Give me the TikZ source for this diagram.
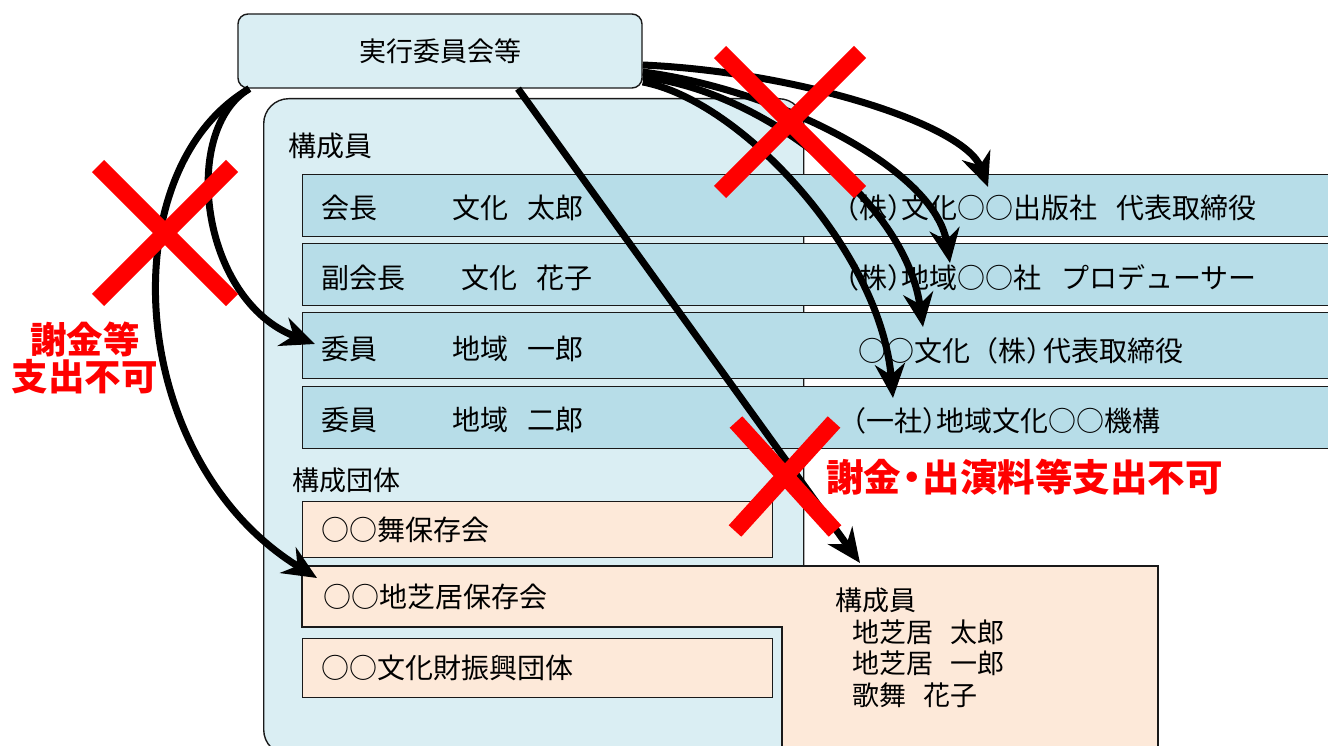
\documentclass[tikz,border=0pt]{standalone}
\usepackage{fontspec}
\setmainfont{Noto Sans CJK JP}
\usepackage{xcolor}
\usetikzlibrary{arrows.meta}

\definecolor{paleblue}{HTML}{DAEEF3}
\definecolor{rowblue}{HTML}{B7DDE8}
\definecolor{paleorange}{HTML}{FDE9D9}
\definecolor{ngred}{HTML}{FF0000}

\newcommand{\hw}[1]{{\addfontfeature{RawFeature=+halt}#1}}

\begin{document}
\begin{tikzpicture}[x=1pt, y=-1pt,
                        boxline/.style={draw=black!90, line width=1.4pt},
                        rowbox/.style={boxline, fill=rowblue, anchor=north west,
                            minimum width=1060pt, minimum height=62pt, inner sep=0pt},
                        grpbox/.style={boxline, fill=paleorange, anchor=north west,
                            minimum width=470pt, inner sep=0pt},
                        txt/.style={anchor=west, inner sep=0pt, font=\fontsize{28}{32}\selectfont},
                        link/.style={line width=7pt, -{Stealth[length=34pt,width=30pt,inset=11pt]}},
                        ngmark/.style={ngred, line width=17pt},
                        ngtxt/.style={ngred, inner sep=0pt, align=center,
                            font=\bfseries\fontsize{36.5}{37}\selectfont}]
        \clip (0,0) rectangle (1328,746);
        \node[boxline, fill=paleblue, rounded corners=25pt, anchor=north west,
              minimum width=540pt, minimum height=656pt] (kosei) at (263,98) {};
        \node[boxline, fill=paleblue, rounded corners=10pt, minimum width=404pt,
              minimum height=74pt, font=\fontsize{27}{30}\selectfont] (jikko) at (440,51) {実行委員会等};
        \node[txt] (koseiin) at (288,146) {構成員};

        \node[rowbox] (kaicho) at (302,174) {};
        \node[rowbox] (fukukaicho) at (302,243) {};
        \node[rowbox, minimum height=66pt] (iinA) at (302,312) {};
        \node[rowbox] (iinB) at (302,386) {};

        \node[txt] (kaichoyaku) at (321,208) {会長};
        \node[txt] (kaichoname) at (452,208) {文化\hspace{19pt}太郎};
        \node[txt] (kaichoorg) at (845,208) {\hw{（}株\hw{）}文化○○出版社\hspace{19pt}代表取締役};
        \node[txt] (fukuyaku) at (321,278) {副会長};
        \node[txt] (fukuname) at (461,278) {文化\hspace{19pt}花子};
        \node[txt] (fukuorg) at (845,278) {\hw{（}株\hw{）}地域○○社\hspace{20pt}プロデューサー};
        \node[txt] (iinAyaku) at (321,349) {委員};
        \node[txt] (iinAname) at (452,349) {地域\hspace{19pt}一郎};
        \node[txt] (iinAorg) at (858,351) {○○文化（株\hw{）}\hspace{3pt}代表取締役};
        \node[txt] (iinByaku) at (321,420) {委員};
        \node[txt] (iinBname) at (452,420) {地域\hspace{19pt}二郎};
        \node[txt] (iinBorg) at (852,421) {\hw{（}一社\hw{）}地域文化○○機構};

        \node[txt, font=\fontsize{27}{30}\selectfont] (dantai) at (292,480) {構成団体};
        \node[grpbox, minimum height=56pt] (mai) at (302,501) {};
        \draw[boxline, fill=paleorange] (302,566) -| (1158,760) -| (782,627) -- (302,627) -- cycle;
        \node[grpbox, minimum height=59pt] (bunka) at (302,638) {};
        \node[txt] (maitext) at (321,530) {○○舞保存会};
        \node[txt] (shibaitext) at (323,597) {○○地芝居保存会};
        \node[txt] (bunkatext) at (321,668) {○○文化財振興団体};
        \node[anchor=north west, inner sep=0pt, align=left,
              font=\fontsize{27}{31.5}\selectfont] (shibaimember) at (835,588)
              {構成員\\\hspace{17pt}地芝居\hspace{17pt}太郎\\\hspace{17pt}地芝居\hspace{17pt}一郎\\\hspace{17pt}歌舞\hspace{17pt}花子};

        \coordinate (tipkaicho) at (988,187);
        \coordinate (tipfuku) at (950,263);
        \coordinate (tipiinA) at (923,327);
        \coordinate (tipiinB) at (893,398);
        \coordinate (tipiin) at (315,344);
        \coordinate (tipshibai) at (317,578);
        \coordinate (tipmember) at (860,563);

        \draw[link] ([yshift=-14pt]jikko.east) .. controls (800,72) and (965,125) .. (tipkaicho);
        \draw[link] ([yshift=-21pt]jikko.east) .. controls (780,90) and (935,170) .. (tipfuku);
        \draw[link] ([yshift=-26pt]jikko.east) .. controls (760,90) and (905,200) .. (tipiinA);
        \draw[link] ([yshift=-31pt]jikko.east) .. controls (740,100) and (880,250) .. (tipiinB);
        \draw[link] ([xshift=12pt]jikko.south west) .. controls (180,130) and (200,300) .. (tipiin);
        \draw[link] ([xshift=12pt]jikko.south west) .. controls (110,170) and (125,460) .. (tipshibai);
        \draw[link] ([xshift=78pt]jikko.south) -- (tipmember);

        \draw[ngmark] (98,166) -- (232,300) (232,166) -- (98,300);
        \draw[ngmark] (720,52) -- (860,192) (860,52) -- (720,192);
        \draw[ngmark] (736,422) -- (835,531) (834,422) -- (735,531);

        \node[ngtxt] (ngleft) at (85,358) {謝金等\\支出不可};
        \node[ngtxt, anchor=west, font=\bfseries\fontsize{37.5}{38}\selectfont] (ngright) at (826,477)
              {謝金\hspace{1.5pt}\hw{・}\hspace{1.5pt}出演料等支出不可};
    \end{tikzpicture}
\end{document}
